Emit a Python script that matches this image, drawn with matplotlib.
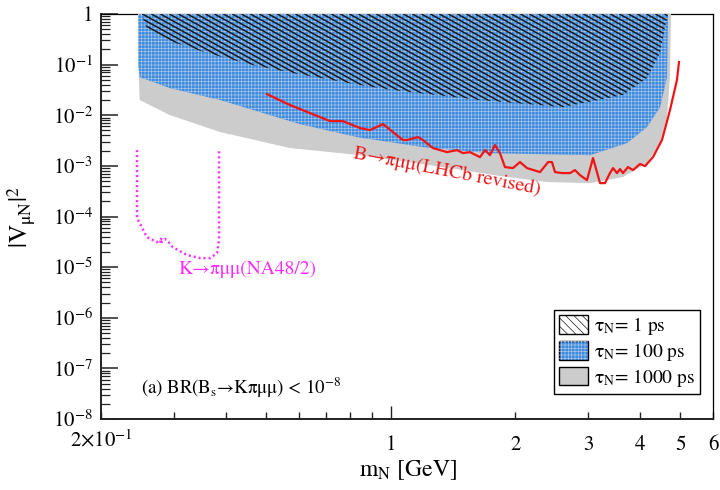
import numpy as np
import matplotlib
matplotlib.use("Agg")
import matplotlib.pyplot as plt
from matplotlib.patches import Polygon, Patch
from matplotlib.collections import LineCollection
from matplotlib.legend_handler import HandlerTuple

plt.rcParams['font.family'] = ['STIXGeneral', 'DejaVu Serif']
plt.rcParams['mathtext.fontset'] = 'stix'
plt.rcParams['hatch.linewidth'] = 0.45

# ---------------- data ----------------
# tau_N = 1000 ps region (gray)
gray_x = [0.2456, 0.2462, 0.248, 0.293, 0.388, 0.572, 0.844, 1.391, 1.836, 2.385,
          3.028, 3.638, 4.158, 4.47, 4.646, 4.724, 4.75]
gray_y = [1.0, 0.1, 0.020, 0.0101, 0.00466, 0.00225, 0.00163, 0.000905, 0.00063,
          0.000478, 0.000457, 0.000601, 0.00114, 0.00282, 0.00921, 0.0569, 1.0]

# tau_N = 100 ps region (blue)
blue_x = [0.2456, 0.2456, 0.248, 0.293, 0.388, 0.604, 0.830, 1.197, 1.737, 3.028,
          3.72, 4.158, 4.47, 4.646, 4.672]
blue_y = [1.0, 0.123, 0.0569, 0.0345, 0.0200, 0.0067, 0.00371, 0.00235, 0.00179,
          0.00163, 0.00282, 0.00585, 0.0145, 0.0569, 1.0]

# tau_N = 1 ps region (hatched)
hatch_x = [0.25, 0.258, 0.298, 0.361, 0.465, 0.581, 0.844, 1.013, 1.643, 2.606,
           3.638, 4.158, 4.47, 4.594, 4.672]
hatch_y = [1.0, 0.529, 0.280, 0.1695, 0.0982, 0.0683, 0.0395, 0.0315, 0.0200,
           0.0145, 0.0251, 0.0543, 0.1695, 0.553, 1.0]

# B -> pi mu mu (LHCb revised)
lhcb_m = [0.503, 0.572, 0.639, 0.714, 0.767, 0.844, 0.892, 0.959, 1.013, 1.071,
          1.095, 1.164, 1.197, 1.265, 1.368, 1.446, 1.495, 1.554, 1.643, 1.690,
          1.737, 1.786, 1.836, 1.888, 1.974, 2.052, 2.134, 2.294, 2.40, 2.452,
          2.493, 2.592, 2.710, 2.786, 2.864, 2.978, 3.080, 3.202, 3.292, 3.384,
          3.442, 3.518, 3.578, 3.638, 3.740, 3.846, 3.998, 4.112, 4.298, 4.518,
          4.724, 4.910, 4.966]
lhcb_v = [0.0262, 0.0159, 0.01105, 0.00768, 0.00768, 0.00558, 0.00510, 0.00670,
          0.00466, 0.00324, 0.00324, 0.00371, 0.00324, 0.00225, 0.00187, 0.00205,
          0.00179, 0.00187, 0.00149, 0.00205, 0.00163, 0.00258, 0.00179, 0.000947,
          0.000905, 0.00119, 0.000905, 0.000754, 0.00119, 0.00119, 0.000754,
          0.000721, 0.000721, 0.000826, 0.000658, 0.000524, 0.00143, 0.000457,
          0.000457, 0.000721, 0.000905, 0.000721, 0.000865, 0.000721, 0.000947,
          0.000826, 0.00109, 0.00099, 0.00149, 0.00324, 0.01267, 0.0496, 0.1125]

# K -> pi mu mu (NA48/2)
na48_m = [0.2443, 0.2443, 0.248, 0.258, 0.2731, 0.2807, 0.2770, 0.2850, 0.2886,
          0.298, 0.3225, 0.347, 0.3666, 0.3811, 0.3854, 0.3854]
na48_v = [0.00205, 9.3e-5, 7.4e-5, 3.92e-5, 3.12e-5, 3.74e-5, 2.9e-5, 3.6e-5,
          3.42e-5, 2.48e-5, 1.73e-5, 1.51e-5, 1.51e-5, 1.89e-5, 3.42e-5, 0.00205]

xticks = [0.2, 1, 2, 3, 4, 5, 6]
xtick_labels = [r'2$\times$10$^{-1}$', '1', '2', '3', '4', '5', '6']
yticks = [1e-8, 1e-7, 1e-6, 1e-5, 1e-4, 1e-3, 1e-2, 1e-1, 1]
ytick_labels = [r'10$^{-8}$', r'10$^{-7}$', r'10$^{-6}$', r'10$^{-5}$', r'10$^{-4}$',
                r'10$^{-3}$', r'10$^{-2}$', r'10$^{-1}$', '1']
legend_labels = [r'τ$_\mathrm{N}$= 1 ps', r'τ$_\mathrm{N}$= 100 ps',
                 r'τ$_\mathrm{N}$= 1000 ps']

# ---------------- style ----------------
GRAY = '#cccccc'
BLUE = '#3a8ce6'
BLUE_HATCH = '#b4c6dc'
RED = '#f01515'
MAGENTA = '#ff2cff'

fig = plt.figure(figsize=(7.2, 4.9), dpi=100)
ax = fig.add_axes([0.1403, 0.1449, 0.850, 0.8265])
ax.set_xscale('log')
ax.set_yscale('log')
ax.set_xlim(0.2, 6)
ax.set_ylim(1e-8, 1)

# regions
gray_poly = Polygon(np.column_stack([gray_x, gray_y]), closed=True,
                    facecolor=GRAY, edgecolor='none', zorder=3)
ax.add_patch(gray_poly)
blue_poly = Polygon(np.column_stack([blue_x, blue_y]), closed=True,
                    facecolor=BLUE, edgecolor='none', zorder=3.1)
ax.add_patch(blue_poly)
blue_tex = Polygon(np.column_stack([blue_x, blue_y]), closed=True,
                   facecolor='none', edgecolor=BLUE_HATCH, hatch='+++++',
                   linewidth=0, zorder=3.2)
ax.add_patch(blue_tex)
hatch_poly = Polygon(np.column_stack([hatch_x, hatch_y]), closed=True,
                     facecolor='none', edgecolor='none', zorder=3.3)
ax.add_patch(hatch_poly)

# diagonal hatch lines (drawn in axes units, clipped to the 1 ps region)
W, H = 612.0, 405.0
slope = 0.55 * W / H
step = 9.0 / W
segs = []
for x0 in np.arange(-1.3, 1.0, step):
    segs.append([(x0, 1.0), (x0 + 1.0 / slope, 0.0)])
lc = LineCollection(segs, colors='#1a1a1a', linewidths=1.1,
                    transform=ax.transAxes, zorder=3.4)
ax.add_collection(lc)
lc.set_clip_path(hatch_poly)

# experimental curves
ax.plot(lhcb_m, lhcb_v, color=RED, lw=1.6, zorder=5)
ax.plot(na48_m, na48_v, color=MAGENTA, lw=1.8, linestyle=(0, (0.8, 1.2)), zorder=5)

# texts
ax.text(0.812, 1.4e-3, 'B→πμμ(LHCb revised)', color=RED,
        fontsize=14.5, rotation=-11, rotation_mode='anchor', ha='left', va='baseline',
        zorder=6)
ax.text(0.451, 9.1e-6, 'K→πμμ(NA48/2)', color=MAGENTA,
        fontsize=14, ha='center', va='center', zorder=6)
ax.text(0.2498, 4.1e-8, r'(a) BR(B$_\mathrm{s}$→Kπμμ) < 10$^{-8}$',
        color='black', fontsize=13.5, ha='left', va='center', zorder=6)

# axes, ticks
for s in ['left', 'bottom']:
    ax.spines[s].set_linewidth(1.4)
    ax.spines[s].set_color('#222222')
for s in ['top', 'right']:
    ax.spines[s].set_linewidth(0.9)
    ax.spines[s].set_color('black')

ax.set_xticks(xticks)
ax.set_xticklabels(xtick_labels)
ax.set_xticks([0.3, 0.4, 0.5, 0.6, 0.7, 0.8, 0.9], minor=True)
ax.xaxis.set_minor_formatter(matplotlib.ticker.NullFormatter())
ax.set_yticks(yticks)
ax.set_yticklabels(ytick_labels)
ax.yaxis.set_minor_locator(matplotlib.ticker.LogLocator(base=10, subs=np.arange(2, 10), numticks=50))
ax.yaxis.set_minor_formatter(matplotlib.ticker.NullFormatter())

ax.tick_params(axis='both', which='both', direction='in', top=False, right=False,
               colors='#222222', labelcolor='black', labelsize=15)
ax.tick_params(axis='y', which='major', length=12, width=1.1, pad=6)
ax.tick_params(axis='y', which='minor', length=6.5, width=0.9)
ax.tick_params(axis='x', which='major', length=5, width=1.0, pad=12)
ax.tick_params(axis='x', which='minor', length=5, width=1.0)
mt = ax.xaxis.get_major_ticks()
mt[1].tick1line.set_markersize(9.5)
mt[0].set_pad(8)

ax.set_xlabel(r'm$_\mathrm{N}$ [GeV]', fontsize=17)
ax.xaxis.set_label_coords(0.502, -0.098)
ax.set_ylabel(r'|V$_\mathrm{μN}$|$^2$', fontsize=18)
ax.yaxis.set_label_coords(-0.105, 0.50)

# legend
h1 = Patch(facecolor='white', edgecolor='black', hatch='\\\\\\\\', linewidth=1.0)
h2 = (Patch(facecolor=BLUE, edgecolor='black', linewidth=1.0),
      Patch(facecolor='none', edgecolor=BLUE_HATCH, hatch='+++++', linewidth=0))
h3 = Patch(facecolor=GRAY, edgecolor='black', linewidth=1.0)
leg = ax.legend([h1, h2, h3], legend_labels, loc='upper right',
                bbox_to_anchor=(0.979, 0.269), fontsize=14, frameon=True,
                fancybox=False, edgecolor='black', framealpha=1,
                handlelength=1.5, handleheight=1.1, handletextpad=0.3,
                labelspacing=0.2, borderpad=0.25, borderaxespad=0,
                handler_map={tuple: HandlerTuple(ndivide=1, pad=0)})
leg.get_frame().set_linewidth(1.0)
leg.set_zorder(7)

fig.savefig('out.png', dpi=100)
